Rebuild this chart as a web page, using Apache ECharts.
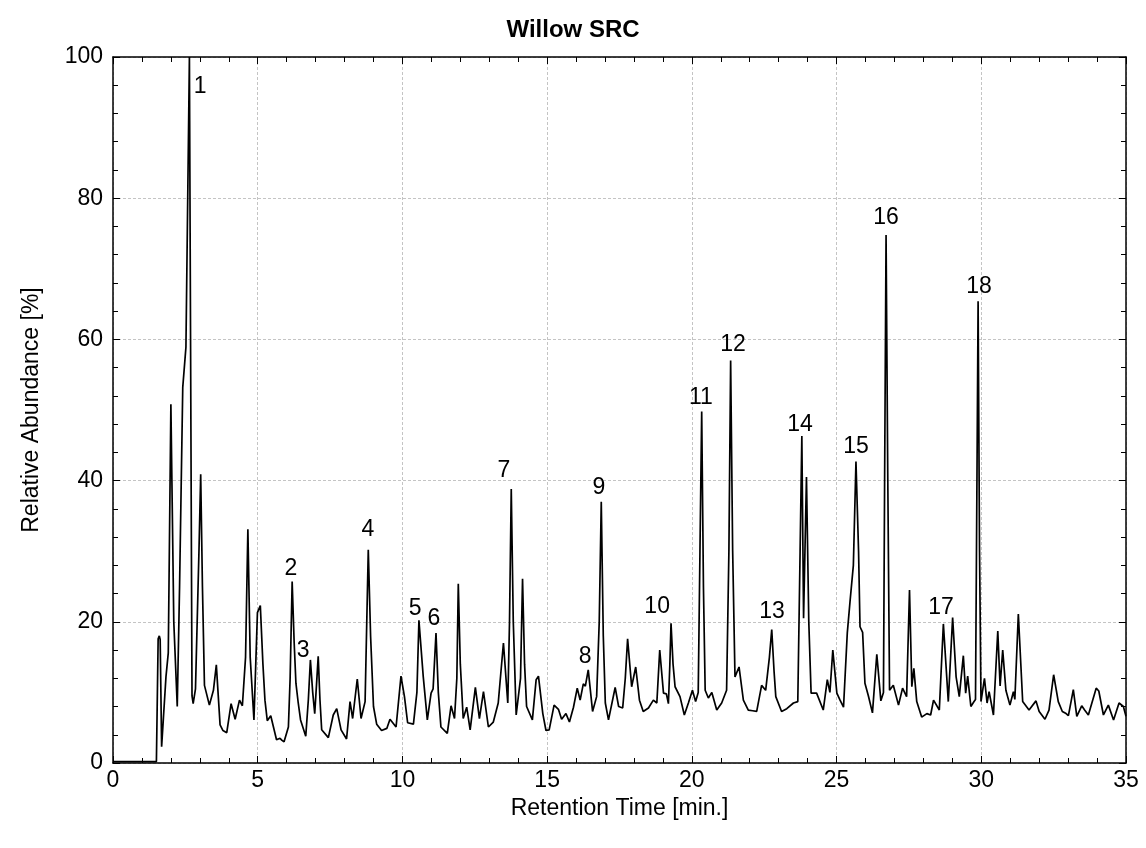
<!DOCTYPE html>
<html>
<head>
<meta charset="utf-8">
<script src="https://cdn.jsdelivr.net/npm/echarts@6/dist/echarts.min.js"></script>
<style>html,body{margin:0;padding:0;background:#fff}#c{width:1146px;height:848px}</style>
</head>
<body>
<div id="c"></div>
<script>
// Retention time (min) and relative abundance (%)
var times = [0,1.50,1.52,1.56,1.60,1.63,1.68,1.83,1.91,2.00,2.10,2.22,2.30,2.41,2.52,2.64,2.73,2.77,2.85,2.97,3.03,3.09,3.16,3.33,
3.47,3.57,3.70,3.80,3.93,4.08,4.22,4.37,4.47,4.58,4.66,4.74,4.87,4.99,5.09,5.18,5.25,5.33,5.45,5.55,5.65,5.77,5.84,5.91,6.06,6.12,6.19,6.26,6.32,6.40,6.48,6.66,6.75,6.82,6.90,6.97,7.03,7.09,7.15,7.21,7.44,7.61,7.73,7.88,8.07,8.19,8.28,8.44,8.57,8.71,8.82,8.90,9.00,9.11,9.28,9.46,9.57,9.78,9.95,10.07,10.18,10.38,10.50,10.57,10.72,10.86,10.99,11.06,11.16,11.24,11.33,11.55,11.68,11.80,11.88,11.93,12.00,12.10,12.22,12.34,12.52,12.66,12.80,12.97,13.14,13.31,13.49,13.64,13.70,13.76,13.83,13.93,14.08,14.15,14.22,14.29,14.49,14.62,14.70,14.85,14.96,15.07,15.24,15.39,15.50,15.65,15.77,15.91,16.04,16.14,16.25,16.32,16.42,16.57,16.71,16.80,16.87,16.94,17.01,17.12,17.35,17.47,17.61,17.70,17.78,17.92,18.06,18.19,18.32,18.50,18.67,18.79,18.89,19.02,19.12,19.19,19.24,19.28,19.35,19.42,19.59,19.74,19.88,20.02,20.13,20.22,20.28,20.34,20.40,20.46,20.57,20.69,20.86,21.03,21.20,21.28,21.34,21.41,21.49,21.63,21.78,21.95,22.10,22.24,22.41,22.55,22.68,22.76,22.84,22.90,23.10,23.28,23.51,23.66,23.74,23.80,23.86,23.96,24.04,24.12,24.31,24.54,24.68,24.77,24.87,25.01,25.12,25.24,25.37,25.47,25.58,25.67,25.76,25.81,25.90,25.98,26.10,26.24,26.39,26.53,26.62,26.66,26.71,26.77,26.83,26.96,27.14,27.28,27.42,27.52,27.60,27.67,27.77,27.94,28.12,28.25,28.35,28.55,28.69,28.86,29.01,29.13,29.24,29.38,29.46,29.53,29.64,29.75,29.80,29.85,29.89,29.94,29.99,30.11,30.20,30.27,30.42,30.57,30.65,30.74,30.85,30.99,31.11,31.16,31.28,31.43,31.65,31.89,32.00,32.20,32.34,32.50,32.66,32.80,32.93,33.01,33.18,33.30,33.47,33.57,33.70,33.97,34.06,34.22,34.39,34.57,34.76,34.91,35.00];
var abundance = [0.2,0.2,0.3,17.6,18.0,17.5,2.3,12.2,15.6,50.8,20,8.0,25,53.2,58.9,100,9.5,8.4,10.5,30,40.9,25,11,8.2,
10.3,13.9,5.4,4.6,4.3,8.4,6.2,8.9,8.1,15,33.1,15,6.1,21.3,22.3,14,8.9,6.0,6.7,5,3.3,3.5,3.2,3.0,5.1,12,25.7,17,11.3,8.5,6.1,3.8,9,14.6,10,7.0,11,15.1,9,4.7,3.6,6.8,7.7,4.7,3.4,8.7,6.3,11.9,6.3,8.7,30.2,18,8.0,5.5,4.6,4.9,6.2,5.1,12.3,9.4,5.7,5.5,10,20.2,12.2,6.1,9.9,10.5,18.4,10,5.1,4.2,8.1,6.3,12,25.4,14,6.3,7.9,4.7,10.7,6.3,10.1,5.1,5.8,8.5,17.0,8.5,20,38.8,20,6.8,12,26.1,14,8.0,6.1,11.8,12.3,7.0,4.6,4.7,8.2,7.6,6.2,7.0,5.8,7.9,10.6,8.9,11.2,10.9,13.2,7.3,9.4,20,37.0,18,8.5,6.1,10.7,8.0,7.8,12,17.6,10.8,13.6,8.9,7.3,7.8,8.9,8.5,16.0,9.9,9.8,8.4,14,19.8,14,10.8,9.4,6.8,8.5,10.3,8.7,10,30,49.8,25,10.3,9.2,10.0,7.5,8.5,10.3,30,57.0,30,12.2,13.6,8.9,7.5,7.4,7.3,11.0,10.3,15,18.9,13,9.4,7.3,7.7,8.5,8.7,30,46.3,20.5,40.5,20,9.9,9.9,7.5,11.8,10.0,16.0,9.9,8.9,7.9,18.4,23.1,28.0,42.7,30,19.3,18.5,11.3,9.5,7.1,15.4,8.8,10,40,74.8,40,10.3,11.0,8.2,10.6,9.4,24.5,10.8,13.4,8.7,6.5,7.0,6.8,8.9,7.5,19.7,8.7,20.6,12.2,9.4,15.2,9.9,12.3,8.0,8.7,9,40,65.4,30,8.7,12.0,8.5,10.1,6.8,18.7,10.9,16.0,10.3,8.2,10.1,9.0,21.1,8.7,7.5,8.8,7.3,6.2,7.5,12.5,8.7,7.3,7.0,6.7,10.4,6.6,8.1,7.5,6.8,10.6,10.2,6.8,8.2,6.1,8.5,8.0,6.6];
// Peak numbers and where their labels sit (time, abundance)
var peakNames = ['1','2','3','4','5','6','7','8','9','10','11','12','13','14','15','16','17','18'];
var peakLabelTime = [3.01,6.15,6.57,8.81,10.44,11.09,13.51,16.31,16.79,18.80,20.31,21.42,22.77,23.74,25.67,26.71,28.61,29.92];
var peakLabelAbund = [95.8,27.5,15.9,33.1,21.8,20.5,41.4,15.0,39.0,22.1,51.8,59.2,21.4,47.9,44.8,77.2,22.0,67.4];
var xTicks = {min:0, max:35, step:5};
var yTicks = {min:0, max:100, step:20};

var lineData = times.map(function(t,i){return [t, abundance[i]];});
var labelData = peakNames.map(function(n,i){return {name:n, value:[peakLabelTime[i], peakLabelAbund[i]]};});

var FONT = 'Liberation Sans, Arial, sans-serif';
var FS = 23;
function axisCommon(show) {
  return {
    axisLine:{show:true, onZero:false, lineStyle:{color:'#000', width:1.5}},
    axisTick:{show:true, inside:true, length:7, lineStyle:{color:'#000', width:1}},
    minorTick:{show:true, splitNumber:5, length:5, lineStyle:{color:'#000', width:1}},
    axisLabel:{show:show, color:'#000', fontSize:FS, fontFamily:FONT},
  };
}
var xb = Object.assign({type:'value', position:'bottom', min:xTicks.min, max:xTicks.max, interval:xTicks.step,
  name:'Retention Time [min.]', nameLocation:'middle', nameGap:31,
  nameTextStyle:{color:'#000', fontSize:FS, fontFamily:FONT},
  splitLine:{show:true, lineStyle:{color:'#c4c4c4', type:[3,2], width:1}}}, axisCommon(true));
xb.axisLabel.margin = 6;
var xt = Object.assign({type:'value', position:'top', min:xTicks.min, max:xTicks.max, interval:xTicks.step,
  splitLine:{show:false}}, axisCommon(false));
var yl = Object.assign({type:'value', position:'left', min:yTicks.min, max:yTicks.max, interval:yTicks.step,
  name:'Relative Abundance [%]', nameLocation:'middle', nameGap:70,
  nameTextStyle:{color:'#000', fontSize:FS, fontFamily:FONT},
  splitLine:{show:true, lineStyle:{color:'#c4c4c4', type:[3,2], width:1}}}, axisCommon(true));
yl.axisLabel.margin = 10;
var yr = Object.assign({type:'value', position:'right', min:yTicks.min, max:yTicks.max, interval:yTicks.step,
  splitLine:{show:false}}, axisCommon(false));

var chart = echarts.init(document.getElementById('c'), null, {renderer:'canvas'});
chart.setOption({
  animation:false,
  backgroundColor:'#fff',
  title:{text:'Willow SRC', left:'center', top:13,
    textStyle:{color:'#000', fontSize:24, fontWeight:'bold', fontFamily:FONT}},
  grid:{left:113, right:20, top:57, bottom:85, containLabel:false},
  xAxis:[xb, xt],
  yAxis:[yl, yr],
  series:[
    {type:'line', xAxisIndex:0, yAxisIndex:0, data:lineData, showSymbol:false, symbol:'none',
     lineStyle:{color:'#000', width:1.7}, clip:true, z:3},
    {type:'scatter', xAxisIndex:0, yAxisIndex:0, data:labelData, symbol:'circle', symbolSize:1,
     itemStyle:{color:'#ffffff', opacity:1},
     label:{show:true, position:'inside', formatter:'{b}', color:'#000000', fontSize:FS, fontFamily:FONT,
            textBorderWidth:0, textShadowBlur:0, opacity:1},
     emphasis:{disabled:true},
     z:4}
  ]
});
</script>
</body>
</html>
